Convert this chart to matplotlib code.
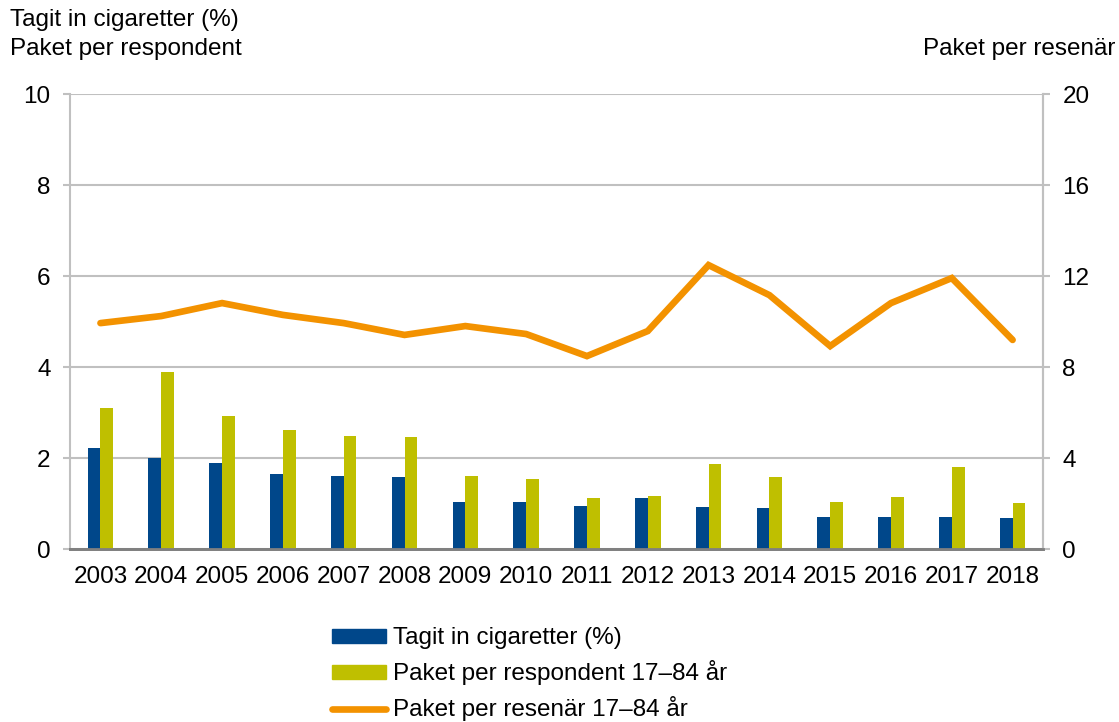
import numpy as np
import matplotlib
matplotlib.use("Agg")
import matplotlib.pyplot as plt
from matplotlib.lines import Line2D
from matplotlib.patches import Patch

# =========================
# DATA
# =========================
years = ["2003", "2004", "2005", "2006", "2007", "2008", "2009", "2010",
         "2011", "2012", "2013", "2014", "2015", "2016", "2017", "2018"]
tagit_in = [2.22, 2.00, 1.89, 1.65, 1.60, 1.58, 1.03, 1.03,
            0.95, 1.12, 0.92, 0.90, 0.70, 0.70, 0.71, 0.68]
paket_respondent = [3.10, 3.89, 2.92, 2.62, 2.48, 2.46, 1.60, 1.54,
                    1.12, 1.16, 1.87, 1.58, 1.03, 1.14, 1.80, 1.01]
paket_resenar = [9.93, 10.24, 10.81, 10.29, 9.93, 9.41, 9.80, 9.45,
                 8.48, 9.58, 12.48, 11.16, 8.92, 10.81, 11.91, 9.19]

BLUE = "#00478a"
YELLOW = "#bfbf00"
ORANGE = "#f39200"
GRID = "#c0c0c0"

plt.rcParams["font.family"] = ["Liberation Sans", "DejaVu Sans"]
FS = 17.5

fig = plt.figure(figsize=(11.19, 7.22), dpi=100)
ax = fig.add_axes([0.0626, 0.2396, 0.8695, 0.6302])
ax2 = ax.twinx()

x = np.arange(len(years))
w = 0.21
ax.bar(x - w / 2, tagit_in, w, color=BLUE, zorder=3)
ax.bar(x + w / 2, paket_respondent, w, color=YELLOW, zorder=3)
ax2.plot(x, paket_resenar, color=ORANGE, lw=4.8, solid_capstyle="round",
         solid_joinstyle="miter", zorder=4)

ax.set_xlim(-0.5, len(years) - 0.5)
ax.set_ylim(0, 10)
ax.set_yticks([0, 2, 4, 6, 8, 10])
ax2.set_ylim(0, 20)
ax2.set_yticks([0, 4, 8, 12, 16, 20])
ax.set_xticks(x)
ax.set_xticklabels(years)

ax.grid(axis="y", color=GRID, lw=1.5, zorder=0)
ax.set_axisbelow(True)
ax.set_zorder(ax2.get_zorder() - 1)
ax.patch.set_visible(False)
ax2.patch.set_alpha(0)

for a in (ax, ax2):
    a.spines["top"].set_visible(False)
    a.spines["left"].set_color(GRID)
    a.spines["right"].set_color(GRID)
    a.spines["left"].set_linewidth(1.5)
    a.spines["right"].set_linewidth(1.5)
    a.spines["bottom"].set_color("#808080")
    a.spines["bottom"].set_linewidth(2)
    a.tick_params(axis="y", colors=GRID, labelcolor="black", labelsize=FS,
                  length=5, width=1.5, pad=9)
ax.tick_params(axis="x", length=0, labelsize=FS, pad=12)
ax2.spines["left"].set_visible(False)

fig.text(0.009, 0.972, "Tagit in cigaretter (%)", fontsize=FS, va="center")
fig.text(0.009, 0.932, "Paket per respondent", fontsize=FS, va="center")
fig.text(0.997, 0.932, "Paket per resenär", fontsize=FS, va="center", ha="right")

handles = [Patch(color=BLUE), Patch(color=YELLOW),
           Line2D([0], [0], color=ORANGE, lw=4.8, solid_capstyle="round")]
labels = ["Tagit in cigaretter (%)", "Paket per respondent 17–84 år",
          "Paket per resenär 17–84 år"]
fig.legend(handles, labels, loc="center left", bbox_to_anchor=(0.286, 0.066),
           frameon=False, fontsize=FS, handlelength=2.2, handleheight=0.5,
           handletextpad=0.3, labelspacing=0.45, borderpad=0)

fig.savefig("out.png", dpi=100)
